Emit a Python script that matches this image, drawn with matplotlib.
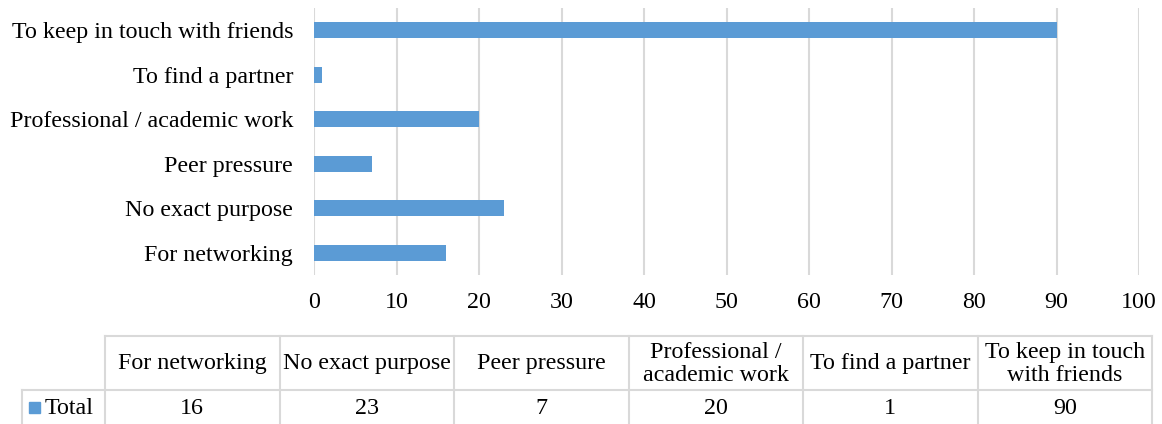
import numpy as np
import matplotlib.pyplot as plt

plt.rcParams['font.family'] = ['Liberation Serif', 'DejaVu Serif']

# reasons for using social media, counts
purposes = ['For networking', 'No exact purpose', 'Peer pressure',
            'Professional / academic work', 'To find a partner',
            'To keep in touch with friends']
table_headers = ['For networking', 'No exact purpose', 'Peer pressure',
                 'Professional /\nacademic work', 'To find a partner',
                 'To keep in touch\nwith friends']
totals = [16, 23, 7, 20, 1, 90]
xticks = [0, 10, 20, 30, 40, 50, 60, 70, 80, 90, 100]

bar_color = '#5b9bd5'
grid_color = '#d9d9d9'
fs = 17.3

W, H = 1162, 424
fig = plt.figure(figsize=(W / 100, H / 100), dpi=100)

# bar chart area
ax = fig.add_axes([314 / W, 1 - 275 / H, (1139 - 314) / W, (275 - 8) / H])
y = np.arange(len(purposes))
ax.barh(y, totals, height=0.36, color=bar_color, zorder=3)
ax.set_xlim(0, 100)
ax.set_ylim(-0.5, len(purposes) - 0.5)
ax.set_xticks(xticks)
ax.set_yticks(y)
ax.set_yticklabels(purposes, fontsize=fs)
ax.tick_params(axis='x', labelsize=fs, length=0, pad=12)
ax.tick_params(axis='y', length=0, pad=15)
ax.xaxis.grid(True, color=grid_color, linewidth=1.5, zorder=0)
for s in ax.spines.values():
    s.set_visible(False)

# data table below the chart, drawn in pixel coordinates
tab = fig.add_axes([0, 0, 1, 1], facecolor='none')
tab.set_xlim(0, W)
tab.set_ylim(H, 0)
tab.axis('off')

col_edges = np.linspace(105, 1152, len(purposes) + 1)
top, mid, bot = 336, 390, 426
lw = 1.5
tab.plot([col_edges[0], col_edges[-1]], [top, top], color=grid_color, lw=lw)
tab.plot([22, col_edges[-1]], [mid, mid], color=grid_color, lw=lw)
tab.plot([22, col_edges[-1]], [bot, bot], color=grid_color, lw=lw)
tab.plot([22, 22], [mid, bot], color=grid_color, lw=lw)
for xe in col_edges:
    tab.plot([xe, xe], [top, bot], color=grid_color, lw=lw)

for i, (h, v) in enumerate(zip(table_headers, totals)):
    xc = (col_edges[i] + col_edges[i + 1]) / 2
    tab.text(xc, (top + mid) / 2 + 1, h, ha='center', va='center',
             fontsize=fs, linespacing=1.12)
    tab.text(xc, 408, str(v), ha='center', va='center', fontsize=fs)

tab.add_patch(plt.Rectangle((29, 402), 11, 11, color=bar_color))
tab.text(45, 408, 'Total', ha='left', va='center', fontsize=fs)

fig.savefig('out.png', dpi=100)
